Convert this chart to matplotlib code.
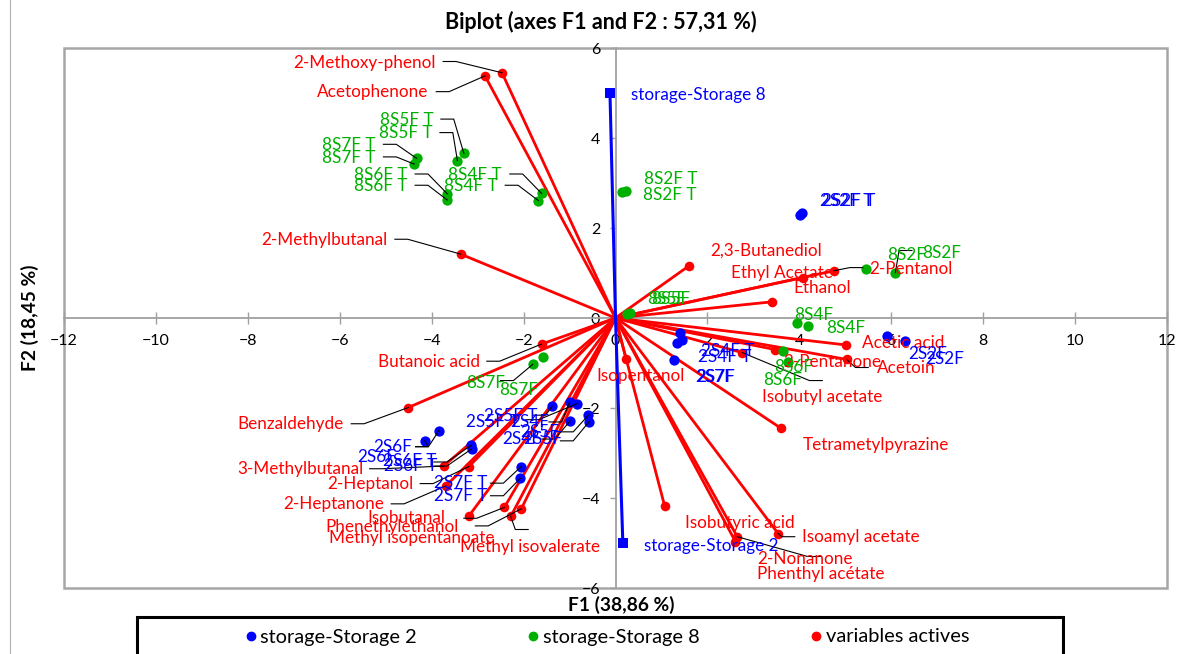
import matplotlib
matplotlib.use("Agg")
import matplotlib.pyplot as plt
from matplotlib.patches import Rectangle
from matplotlib.lines import Line2D
import numpy as np

plt.rcParams['font.family'] = ['Lato', 'DejaVu Sans']

# ---------------- data ----------------
var_names = ["2-Methoxy-phenol", "Acetophenone", "2-Methylbutanal", "Butanoic acid",
             "Benzaldehyde", "3-Methylbutanal", "2-Heptanol", "2-Heptanone",
             "Isobutanal", "Phenethylethanol", "Methyl isopentanoate", "Methyl isovalerate",
             "2,3-Butanediol", "Ethyl Acetate", "Ethanol", "2-Pentanol",
             "Acetic acid", "2-Pentanone", "Acetoin", "Isobutyl acetate",
             "Isopentanol", "Tetrametylpyrazine", "Isobutyric acid", "Isoamyl acetate",
             "2-Nonanone", "Phenthyl acétate"]
var_f1 = [-2.47, -2.84, -3.37, -1.61, -4.51, -3.74, -3.19, -3.69,
          -2.42, -2.05, -3.19, -2.28,
          1.60, 4.08, 3.41, 4.75, 5.02, 3.47, 5.03, 2.76,
          0.23, 3.60, 1.07, 3.54, 2.65, 2.61]
var_f2 = [5.45, 5.38, 1.42, -0.58, -1.99, -3.29, -3.30, -3.73,
          -4.21, -4.24, -4.40, -4.41,
          1.16, 0.90, 0.36, 1.05, -0.60, -0.70, -0.92, -0.77,
          -0.91, -2.45, -4.18, -4.79, -4.86, -4.97]

s2_names = ["2S2F T", "2S2F T", "2S2F", "2S2F", "2S4F T", "2S4F T", "2S7F", "2S7F",
            "2S5F T", "2S4F", "2S5F T", "2S5F", "2S4F", "2S5F",
            "2S6F", "2S6F", "2S6F T", "2S6F T", "2S7F T", "2S7F T"]
s2_f1 = [4.01, 4.05, 5.90, 6.29, 1.41, 1.45, 1.33, 1.28,
         -1.38, -1.00, -0.83, -0.59, -0.99, -0.57,
         -3.84, -4.15, -3.14, -3.13, -2.05, -2.07]
s2_f2 = [2.30, 2.33, -0.39, -0.51, -0.34, -0.49, -0.56, -0.93,
         -1.96, -1.87, -1.90, -2.16, -2.29, -2.30,
         -2.50, -2.73, -2.83, -2.91, -3.30, -3.56]

s8_names = ["8S5F T", "8S5F T", "8S7F T", "8S7F T", "8S6F T", "8S6F T", "8S4F T", "8S4F T",
            "8S2F T", "8S2F T", "8S2F", "8S2F", "8S4F", "8S4F", "8S6F", "8S6F",
            "8S5F", "8S5F", "8S7F", "8S7F"]
s8_f1 = [-3.30, -3.44, -4.33, -4.38, -3.66, -3.66, -1.61, -1.68,
         0.15, 0.22, 5.45, 6.09, 3.94, 4.18, 3.65, 3.76,
         0.25, 0.31, -1.80, -1.57]
s8_f2 = [3.66, 3.50, 3.55, 3.42, 2.76, 2.62, 2.77, 2.61,
         2.79, 2.82, 1.08, 1.01, -0.12, -0.18, -0.73, -0.98,
         0.10, 0.12, -1.03, -0.86]

sup_names = ["storage-Storage 8", "storage-Storage 2"]
sup_f1 = [-0.12, 0.16]
sup_f2 = [4.99, -5.01]

# ---------------- label layout (text anchor, alignment, leader start) ----------------
var_layout = [
    (-3.92, 5.67, 'right', (-3.75, 5.70)),
    (-4.07, 5.02, 'right', (-3.90, 5.03)),
    (-4.97, 1.73, 'right', (-4.80, 1.75)),
    (-2.95, -0.97, 'right', (-2.80, -0.96)),
    (-5.91, -2.36, 'right', (-5.75, -2.35)),
    (-5.48, -3.36, 'right', (-5.35, -3.35)),
    (-4.40, -3.69, 'right', (-4.25, -3.68)),
    (-5.03, -4.14, 'right', (-4.88, -4.13)),
    (-5.40, -4.45, 'left', (-3.30, -4.45)),
    (-6.31, -4.64, 'left', (-3.05, -4.62)),
    (-6.24, -4.90, 'left', None),
    (-3.39, -5.08, 'left', (-1.90, -4.70)),
    (2.07, 1.50, 'left', None),
    (2.52, 1.01, 'left', None),
    (3.88, 0.67, 'left', None),
    (5.52, 1.08, 'left', (5.38, 1.12)),
    (5.37, -0.55, 'left', None),
    (3.66, -0.97, 'left', None),
    (5.69, -1.12, 'left', (5.50, -1.10)),
    (3.19, -1.76, 'left', (4.50, -1.39)),
    (-0.41, -1.30, 'left', None),
    (4.08, -2.82, 'left', None),
    (1.52, -4.56, 'left', None),
    (4.05, -4.86, 'left', (3.90, -4.86)),
    (3.08, -5.36, 'left', (4.46, -5.30)),
    (3.08, -5.69, 'left', None),
]

s2_layout = [
    (4.46, 2.61, 'left', None), (4.50, 2.61, 'left', None),
    (6.38, -0.79, 'left', None), (6.75, -0.90, 'left', None),
    (1.85, -0.73, 'left', None), (1.79, -0.86, 'left', None),
    (1.74, -1.32, 'left', None), (1.76, -1.32, 'left', None),
    (-2.87, -2.18, 'left', (-1.80, -2.16)),
    (-2.28, -2.31, 'left', (-1.45, -2.31)),
    (-3.26, -2.31, 'left', (-1.95, -2.26)),
    (-2.07, -2.53, 'left', (-1.20, -2.53)),
    (-2.46, -2.69, 'left', (-1.60, -2.69)),
    (-2.00, -2.69, 'left', (-1.20, -2.73)),
    (-4.42, -2.87, 'right', (-4.35, -2.86)),
    (-5.61, -3.09, 'left', (-4.35, -2.86)),
    (-5.05, -3.18, 'left', (-3.95, -3.20)),
    (-5.03, -3.29, 'left', (-3.95, -3.29)),
    (-3.95, -3.67, 'left', (-2.72, -3.67)),
    (-3.95, -3.95, 'left', (-2.72, -3.95)),
]

s8_layout = [
    (-3.95, 4.40, 'right', (-3.80, 4.42)), (-3.98, 4.10, 'right', (-3.82, 4.12)),
    (-5.22, 3.84, 'right', (-5.05, 3.86)), (-5.22, 3.56, 'right', (-5.05, 3.58)),
    (-4.53, 3.18, 'right', (-4.36, 3.20)), (-4.53, 2.93, 'right', (-4.36, 2.95)),
    (-2.47, 3.18, 'right', (-2.30, 3.20)), (-2.57, 2.93, 'right', (-2.40, 2.95)),
    (0.62, 3.10, 'left', None), (0.60, 2.73, 'left', None),
    (5.90, 1.40, 'left', None), (6.67, 1.45, 'left', (6.45, 1.50)),
    (3.88, 0.07, 'left', None), (4.59, -0.23, 'left', None),
    (3.45, -1.08, 'left', None), (3.21, -1.38, 'left', None),
    (0.69, 0.42, 'left', None), (0.78, 0.42, 'left', None),
    (-3.26, -1.44, 'left', (-2.50, -1.39)), (-2.54, -1.60, 'left', None),
]

sup_layout = [(0.33, 4.96, 'left'), (0.62, -5.06, 'left')]

RED = '#ff0000'
BLUE = '#0000ff'
GREEN = '#00b000'

# ---------------- figure ----------------
fig = plt.figure(figsize=(11.78, 6.54), dpi=100)
W, H = 1178, 654
ax = fig.add_axes([64 / W, 1 - 588 / H, (1167 - 64) / W, (588 - 48) / H])
ax.set_xlim(-12, 12)
ax.set_ylim(-6, 6)
ax.patch.set_alpha(0)

for s in ['top', 'right']:
    ax.spines[s].set_visible(False)
ax.spines['left'].set_position(('data', 0))
ax.spines['bottom'].set_position(('data', 0))
for s in ['left', 'bottom']:
    ax.spines[s].set_color('#a0a0a0')
    ax.spines[s].set_linewidth(1.3)
ax.set_xticks(np.arange(-12, 13, 2))
ax.set_yticks(np.arange(-6, 7, 2))
ax.tick_params(axis='x', direction='inout', length=9, width=1.0, color='#a0a0a0',
               pad=7, labelsize=11.5)
ax.tick_params(axis='y', direction='out', length=4, width=1.0, color='#a0a0a0',
               pad=7, labelsize=11.5)

border = Rectangle((0, 0), 1, 1, transform=ax.transAxes, fill=False,
                   edgecolor='#a6a6a6', linewidth=1.8, clip_on=False, zorder=1)
ax.add_patch(border)

# variable vectors
for x, y in zip(var_f1, var_f2):
    ax.plot([0, x], [0, y], color=RED, lw=2.0, zorder=3, solid_capstyle='butt')
ax.scatter(var_f1, var_f2, s=48, color=RED, zorder=5, linewidths=0)

# supplementary (storage) vectors
for x, y in zip(sup_f1, sup_f2):
    ax.plot([0, x], [0, y], color=BLUE, lw=2.2, zorder=4)
ax.scatter(sup_f1, sup_f2, s=55, color=BLUE, marker='s', zorder=6, linewidths=0)

# observations
ax.scatter(s2_f1, s2_f2, s=55, color=BLUE, zorder=6, linewidths=0)
ax.scatter(s8_f1, s8_f2, s=55, color=GREEN, zorder=6, linewidths=0)

FS = 12.3


def draw_labels(names, xs, ys, layout, color):
    for name, px, py, lay in zip(names, xs, ys, layout):
        tx, ty, ha, lead = lay
        ax.text(tx, ty, name, color=color, fontsize=FS, ha=ha, va='center', zorder=8)
        if lead is not None:
            sx, sy = lead
            ex = sx + (0.28 if px > sx else -0.28)
            ax.plot([sx, ex, px], [sy, sy, py], color='black', lw=0.8, zorder=7)


draw_labels(var_names, var_f1, var_f2, var_layout, RED)
draw_labels(s2_names, s2_f1, s2_f2, s2_layout, BLUE)
draw_labels(s8_names, s8_f1, s8_f2, s8_layout, GREEN)
for name, lay in zip(sup_names, sup_layout):
    ax.text(lay[0], lay[1], name, color=BLUE, fontsize=FS, ha=lay[2], va='center', zorder=8)

# titles
fig.text(601 / W, 1 - 22 / H, "Biplot (axes F1 and F2 : 57,31 %)", ha='center', va='center',
         fontsize=15.5, fontweight='bold')
fig.text(621 / W, 1 - 605 / H, "F1 (38,86 %)", ha='center', va='center',
         fontsize=13.8, fontweight='bold')
fig.text(30 / W, 1 - 318 / H, "F2 (18,45 %)", ha='center', va='center', rotation=90,
         fontsize=13.8, fontweight='bold')

# legend box
fig.patches.append(Rectangle((137 / W, -0.2), (1063 - 137) / W, 0.2 + (1 - 617 / H),
                             transform=fig.transFigure, fill=False, edgecolor='black',
                             linewidth=2.2))
handles = [Line2D([], [], marker='o', color=c, linestyle='', markersize=6)
           for c in (BLUE, GREEN, RED)]
fig.legend(handles, ["storage-Storage 2", "storage-Storage 8", "variables actives"],
           loc='center', bbox_to_anchor=(606 / W, 1 - 637 / H), ncol=3, frameon=False,
           fontsize=14.4, handletextpad=0.1, columnspacing=5.4, handlelength=0.8)

fig.add_artist(Line2D([10 / W, 10 / W], [0, 1], transform=fig.transFigure,
                      color='#b0b0b0', lw=0.8))

fig.savefig("out.png", dpi=100)
